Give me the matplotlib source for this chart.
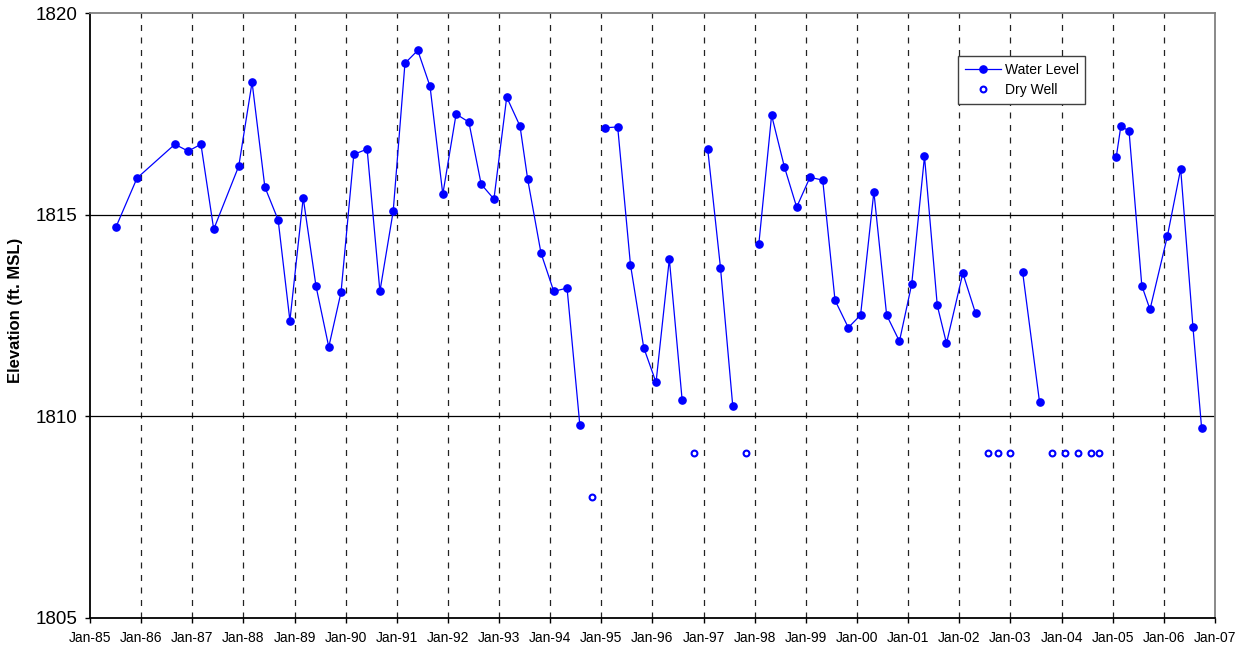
import matplotlib
matplotlib.use("Agg")
import matplotlib.pyplot as plt
import numpy as np

plt.rcParams['font.family'] = ['Liberation Sans', 'DejaVu Sans']

# Decimal-year dates of water level measurements (NaN breaks where the well was dry)
wl_dates = [1985.51, 1985.92, 1986.66, 1986.92, 1987.17, 1987.42, 1987.91, 1988.17, 1988.42, 1988.68,
            1988.91, 1989.17, 1989.42, 1989.67, 1989.91, 1990.16, 1990.42, 1990.67, 1990.93, 1991.16,
            1991.41, 1991.65, 1991.90, 1992.16, 1992.41, 1992.65, 1992.90, 1993.15, 1993.41, 1993.56,
            1993.82, 1994.07, 1994.33, 1994.58, 1994.82,
            1995.08, 1995.32, 1995.57, 1995.83, 1996.07, 1996.33, 1996.58, 1996.82,
            1997.08, 1997.33, 1997.57, 1997.83,
            1998.08, 1998.33, 1998.58, 1998.82, 1999.08, 1999.33, 1999.57, 1999.83, 2000.07,
            2000.33, 2000.58, 2000.83, 2001.07, 2001.32, 2001.57, 2001.75, 2002.07, 2002.32, 2002.57,
            2003.24, 2003.57, 2003.82,
            2005.07, 2005.16, 2005.32, 2005.57, 2005.73, 2006.07, 2006.33, 2006.57, 2006.74]
wl_values = [1814.70, 1815.91, 1816.75, 1816.58, 1816.75, 1814.64, 1816.21, 1818.29, 1815.69, 1814.87,
             1812.37, 1815.42, 1813.23, 1811.72, 1813.08, 1816.50, 1816.63, 1813.10, 1815.09, 1818.76,
             1819.08, 1818.19, 1815.51, 1817.50, 1817.30, 1815.76, 1815.39, 1817.92, 1817.20, 1815.88,
             1814.05, 1813.10, 1813.18, 1809.78, np.nan,
             1817.16, 1817.18, 1813.76, 1811.70, 1810.84, 1813.90, 1810.41, np.nan,
             1816.64, 1813.69, 1810.26, np.nan,
             1814.27, 1817.47, 1816.19, 1815.19, 1815.93, 1815.86, 1812.88, 1812.20, 1812.51,
             1815.57, 1812.51, 1811.86, 1813.28, 1816.45, 1812.75, 1811.81, 1813.55, 1812.55, np.nan,
             1813.57, 1810.35, np.nan,
             1816.43, 1817.20, 1817.08, 1813.24, 1812.65, 1814.47, 1816.14, 1812.21, 1809.70]

dry_dates = [1994.82, 1996.82, 1997.83, 2002.57, 2002.75, 2003.00, 2003.82, 2004.07, 2004.33, 2004.57, 2004.74]
dry_values = [1808.0, 1809.08, 1809.08, 1809.08, 1809.08, 1809.08, 1809.08, 1809.08, 1809.08, 1809.08, 1809.08]

years = list(range(1985, 2008))
year_labels = ["Jan-%02d" % (y % 100) for y in years]
y_ticks = [1805, 1810, 1815, 1820]

fig = plt.figure(figsize=(12.41, 6.5), dpi=100)
ax = fig.add_axes([0.0725, 0.0497, 0.9065, 0.9298])

# vertical dashed grid lines at each January
for yr in years[1:-1]:
    ax.axvline(yr, color='#222222', linestyle=(0, (4.8, 5.2)), linewidth=0.9, zorder=1)
# horizontal solid lines
for v in [1810, 1815]:
    ax.axhline(v, color='black', linewidth=0.9, zorder=1)

ax.plot(wl_dates, wl_values, color='#0000FF', linewidth=0.9, marker='o', markersize=5.2,
        markerfacecolor='#0000FF', markeredgecolor='#0000FF', label='Water Level', zorder=3)
ax.plot(dry_dates, dry_values, linestyle='none', marker='o', markersize=4.2,
        markerfacecolor='white', markeredgecolor='#0000FF', markeredgewidth=1.5,
        label='Dry Well', zorder=3)

ax.set_xlim(1985, 2007)
ax.set_ylim(1805, 1820)
ax.set_xticks(years)
ax.set_xticklabels(year_labels, fontsize=10)
ax.set_yticks(y_ticks)
ax.set_yticklabels([str(v) for v in y_ticks], fontsize=13.5)
ax.tick_params(axis='both', direction='out', length=3.6, width=1, colors='black')
ax.tick_params(axis='y', pad=5.5)
ax.tick_params(axis='x', pad=6)

for s in ['left', 'bottom']:
    ax.spines[s].set_color('black')
    ax.spines[s].set_linewidth(1.3)
for s in ['top', 'right']:
    ax.spines[s].set_color('#808080')
    ax.spines[s].set_linewidth(1.3)

ax.set_ylabel('Elevation (ft. MSL)', fontsize=12, fontweight='bold')
ax.yaxis.set_label_coords(-0.0596, 0.509)

leg = ax.legend(loc='upper left', bbox_to_anchor=(0.7716, 0.9293), borderaxespad=0,
                fontsize=10, frameon=True, fancybox=False, edgecolor='#404040', framealpha=1,
                handlelength=2.6, borderpad=0.5, labelspacing=0.42, handletextpad=0.25)
leg.get_frame().set_linewidth(1.0)

fig.savefig('out.png', dpi=100)
